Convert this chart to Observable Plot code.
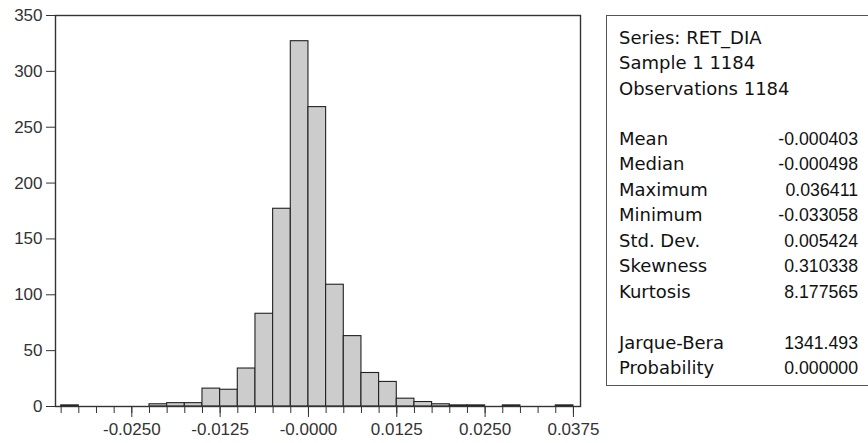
<!DOCTYPE html>
<html>
<head>
<meta charset="utf-8">
<script src="https://cdn.jsdelivr.net/npm/d3@7"></script>
<script src="https://cdn.jsdelivr.net/npm/@observablehq/plot@0.6"></script>
<style>
  html, body { margin: 0; padding: 0; background: #fff; }
  #wrap { position: relative; width: 868px; height: 443px; overflow: hidden; background: #fff; }
  #chart { position: absolute; left: 0; top: 0; }
  #box { position: absolute; left: 606px; top: 15px; width: 290px; height: 371px; border: 1.5px solid #555; box-sizing: border-box; }
  #rows { position: absolute; left: 619px; top: 24.6px; width: 239px; color: #111; }
  .row { display: flex; justify-content: space-between; align-items: baseline; height: 25.5px; line-height: 25.5px; }
  .lab { font-family: "DejaVu Sans", sans-serif; font-size: 18px; }
  .val { font-family: "Liberation Sans", Arial, sans-serif; font-size: 17.7px; }
</style>
</head>
<body>
<div id="wrap">
  <div id="chart"></div>
  <div id="box"></div>
  <div id="rows"></div>
</div>
<script>
// ---- data ----
const binLow = [-0.035, -0.0225, -0.02, -0.0175, -0.015, -0.0125, -0.01, -0.0075, -0.005, -0.0025,
                0, 0.0025, 0.005, 0.0075, 0.01, 0.0125, 0.015, 0.0175, 0.02, 0.0225, 0.0275, 0.035];
const counts = [1, 2, 3, 3, 16, 15, 34, 83, 177, 327,
                268, 109, 63, 30, 22, 7, 4, 2, 1, 1, 1, 1];
const binWidth = 0.0025;
const minorTicks = d3.range(0, 30).map(i => -0.035 + i * 0.0025);
const majorTicks = [-0.025, -0.0125, 0, 0.0125, 0.025, 0.0375];
const majorLabels = ["-0.0250", "-0.0125", "-0.0000", "0.0125", "0.0250", "0.0375"];
const yTicks = [0, 50, 100, 150, 200, 250, 300, 350];

const headerLines = ["Series: RET_DIA", "Sample 1 1184", "Observations 1184"];
const statLabels = ["Mean", "Median", "Maximum", "Minimum", "Std. Dev.", "Skewness", "Kurtosis"];
const statValues = ["-0.000403", "-0.000498", "0.036411", "-0.033058", "0.005424", "0.310338", "8.177565"];
const testLabels = ["Jarque-Bera", "Probability"];
const testValues = ["1341.493", "0.000000"];

const bins = binLow.map((x, i) => ({x1: x, x2: x + binWidth, n: counts[i]}));

const chart = Plot.plot({
  width: 606,
  height: 443,
  marginLeft: 55,
  marginRight: 26,
  marginTop: 15,
  marginBottom: 37,
  style: {fontFamily: "Liberation Sans, Arial, sans-serif", fontSize: "17px", color: "#333", background: "transparent"},
  x: {domain: [-0.0358, 0.0385]},
  y: {domain: [0, 350]},
  marks: [
    Plot.rectY(bins, {x1: "x1", x2: "x2", y: "n", fill: "#cccccc", stroke: "#222", strokeWidth: 1.1}),
    Plot.frame({stroke: "#333", strokeWidth: 1.4}),
    Plot.axisY(yTicks, {tickSize: 9, tickPadding: 4, label: null, fontSize: 17}),
    Plot.axisX(minorTicks, {tickSize: 7, tickFormat: () => "", label: null}),
    Plot.axisX(majorTicks, {tickSize: 11, tickPadding: 5, label: null, fontSize: 17,
      tickFormat: (d) => majorLabels[majorTicks.indexOf(d)]})
  ]
});
document.getElementById("chart").appendChild(chart);

// ---- stats box ----
const rows = document.getElementById("rows");
function addRow(label, value, marginTop) {
  const r = document.createElement("div");
  r.className = "row";
  if (marginTop) r.style.marginTop = marginTop + "px";
  const a = document.createElement("span"); a.className = "lab"; a.textContent = label; r.appendChild(a);
  if (value !== undefined) { const b = document.createElement("span"); b.className = "val"; b.textContent = value; r.appendChild(b); }
  rows.appendChild(r);
}
headerLines.forEach(t => addRow(t));
statLabels.forEach((t, i) => addRow(t, statValues[i], i === 0 ? 24.5 : 0));
testLabels.forEach((t, i) => addRow(t, testValues[i], i === 0 ? 25.5 : 0));
</script>
</body>
</html>
